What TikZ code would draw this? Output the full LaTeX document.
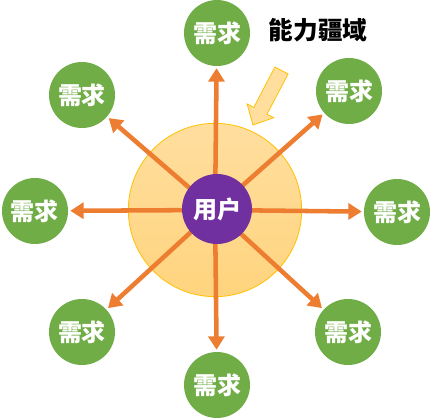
\documentclass[tikz,border=0pt]{standalone}
\usepackage{fontspec}
\newfontfamily\cjk{Noto Sans CJK SC}
\usetikzlibrary{arrows.meta}
\definecolor{needgreen}{HTML}{70AD47}
\definecolor{userpurple}{HTML}{7030A0}
\definecolor{arroworange}{HTML}{ED7D31}
\definecolor{fieldgold}{HTML}{FFC000}
\definecolor{fieldtop}{HTML}{FFDE9E}
\definecolor{fieldbottom}{HTML}{FFD47E}
\begin{document}
\begin{tikzpicture}[x=0.75pt,y=-0.75pt,
     need node/.style={circle,fill=needgreen,text=white,minimum size=49.5pt,inner sep=0pt,
       font=\cjk\bfseries\fontsize{18}{18}\selectfont},
     user node/.style={circle,fill=userpurple,text=white,minimum size=52.5pt,inner sep=0pt,
       font=\cjk\bfseries\fontsize{18}{18}\selectfont},
     field node/.style={circle,draw=fieldgold,line width=0.6pt,top color=fieldtop,
       bottom color=fieldbottom,minimum size=130pt,inner sep=0pt},
     reach/.style={-{Triangle[width=12pt,length=10pt]},arroworange,line width=3.4pt,
       shorten >=1.5pt}]
      \useasboundingbox (0,0) rectangle (433,420);

      \node[field node] (f) at (215,210) {};
      % needs around the user
      \node[need node] (1) at (217,33) {需求};
      \node[need node] (2) at (349,91) {需求};
      \node[need node] (3) at (397,212) {需求};
      \node[need node] (4) at (348,332) {需求};
      \node[need node] (5) at (217,385) {需求};
      \node[need node] (6) at (82,332) {需求};
      \node[need node] (7) at (35,211) {需求};
      \node[need node] (8) at (82,95) {需求};

      \foreach \t in {1,...,8} {
       \draw[reach] (f.center) -- (\t);}

      \node[user node] (u) at (217,209) {用户};

      % label and pointer
      \node[font=\cjk\bfseries\fontsize{18.5}{18.5}\selectfont] (t) at (318,30) {能力疆域};
      \draw[draw=fieldgold,fill=fieldtop,line width=0.6pt,line join=miter]
        (274.9,67.1) -- (288.1,73.9) -- (267.0,114.2) -- (273.7,117.7)
        -- (253.0,125.0) -- (247.1,103.9) -- (253.8,107.4) -- cycle;
    \end{tikzpicture}
\end{document}
